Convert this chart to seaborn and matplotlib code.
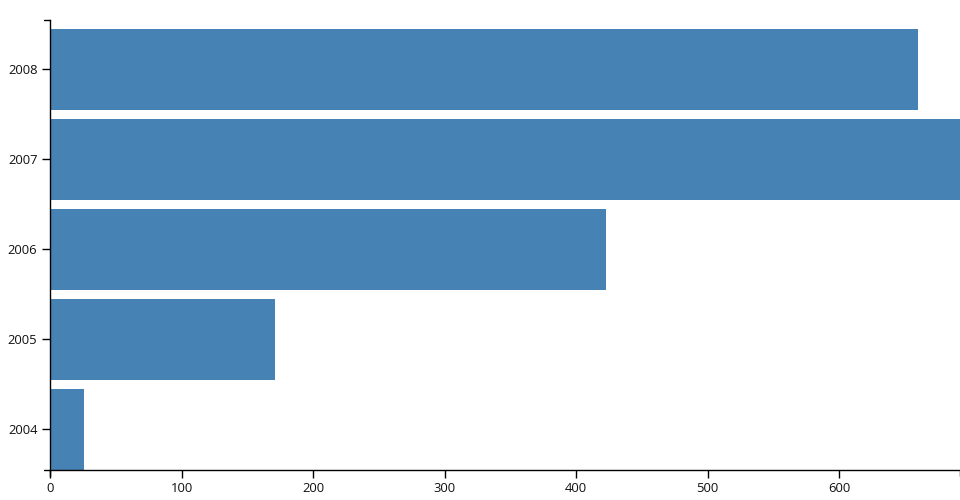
import pandas as pd
import seaborn as sns
import matplotlib.pyplot as plt

# data
years = ["2008", "2007", "2006", "2005", "2004"]
values = [660, 692, 423, 171, 26]
x_ticks = [0, 100, 200, 300, 400, 500, 600]

df = pd.DataFrame({"year": years, "value": values})

sns.set_style("white")
plt.rcParams["font.family"] = ["Open Sans", "DejaVu Sans"]

fig = plt.figure(figsize=(9.6, 5), dpi=100)
ax = fig.add_axes([50 / 960, 30 / 500, 910 / 960, 450 / 500])

sns.barplot(data=df, y="year", x="value", order=years, color="#4682b4",
            saturation=1, width=0.9, linewidth=0, ax=ax)

ax.set_xlim(0, max(values))
ax.set_ylim(len(years) - 1 + 0.45, -0.55)
ax.set_xticks(x_ticks)
ax.set_xlabel("")
ax.set_ylabel("")

for s in ["top", "right"]:
    ax.spines[s].set_visible(False)
for s in ["left", "bottom"]:
    ax.spines[s].set_color("black")
    ax.spines[s].set_linewidth(1)

ax.tick_params(axis="both", which="major", direction="out", length=6, width=1,
               color="black", labelsize=9.4, labelcolor="#111111", pad=3)
ax.tick_params(left=True, bottom=True)

# d3-style outer ticks at the ends of the axis lines
tick_kw = dict(color="black", lw=1, clip_on=False, transform=ax.transAxes)
dx = 6 / 910
dy = 6 / 450
ax.plot([-dx, 0], [1, 1], **tick_kw)
ax.plot([-dx, 0], [0, 0], **tick_kw)
ax.plot([0, 0], [0, -dy], **tick_kw)
ax.plot([1, 1], [0, -dy], **tick_kw)

fig.savefig("out.png", dpi=100)
